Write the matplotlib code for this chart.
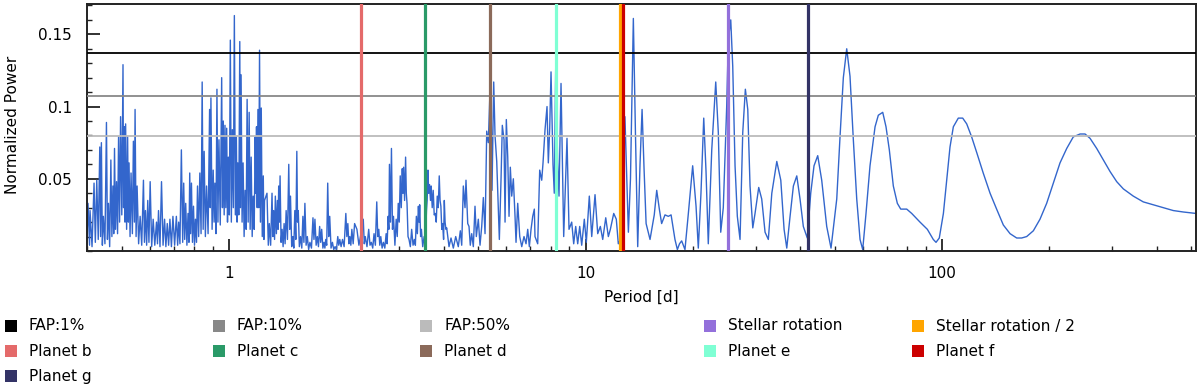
import numpy as np
import matplotlib
matplotlib.use("Agg")
import matplotlib.pyplot as plt
from matplotlib.patches import Rectangle
from matplotlib.ticker import LogLocator, MultipleLocator, NullFormatter

plt.rcParams['font.family'] = ['DejaVu Sans']

# periodogram, (period [d], normalized power)
seg_a = [(0.400, 0.012), (0.4022, 0.033), (0.4062, 0.004), (0.4075, 0.028), (0.4128, 0.003),
         (0.4182, 0.047), (0.4217, 0.006), (0.4256, 0.049), (0.4297, 0.008), (0.4340, 0.072),
         (0.4362, 0.010), (0.4385, 0.075), (0.4413, 0.004), (0.4442, 0.024), (0.4487, 0.005),
         (0.4531, 0.089), (0.4560, 0.008), (0.4590, 0.033), (0.4626, 0.003), (0.4662, 0.063),
         (0.4693, 0.010), (0.4724, 0.045), (0.4749, 0.012), (0.4773, 0.071), (0.4804, 0.015),
         (0.4836, 0.048), (0.4868, 0.012), (0.4900, 0.079), (0.4932, 0.020), (0.4964, 0.093),
         (0.5003, 0.025), (0.5042, 0.129), (0.5061, 0.030), (0.5085, 0.086), (0.5108, 0.020),
         (0.5128, 0.088), (0.5161, 0.015), (0.5195, 0.079), (0.5219, 0.020), (0.5243, 0.061),
         (0.5277, 0.010), (0.5311, 0.054), (0.5357, 0.012), (0.5392, 0.076), (0.5427, 0.020),
         (0.5451, 0.098), (0.5487, 0.010), (0.5523, 0.045), (0.5577, 0.005), (0.5632, 0.024),
         (0.5690, 0.004), (0.5754, 0.049), (0.5791, 0.006), (0.5829, 0.028), (0.5874, 0.004),
         (0.5916, 0.035), (0.5962, 0.006), (0.6009, 0.048), (0.6068, 0.003), (0.6127, 0.022),
         (0.6191, 0.004), (0.6260, 0.020), (0.6300, 0.005), (0.6342, 0.028), (0.6403, 0.003),
         (0.6466, 0.048), (0.6531, 0.004), (0.6595, 0.022), (0.6651, 0.003), (0.6711, 0.019),
         (0.6769, 0.004), (0.6827, 0.022), (0.6893, 0.003), (0.6961, 0.024), (0.7038, 0.004)]

seg_b = [(0.7117, 0.024), (0.7176, 0.004), (0.7224, 0.020), (0.7284, 0.005), (0.7351, 0.070),
         (0.7414, 0.006), (0.7463, 0.047), (0.7511, 0.008), (0.7560, 0.033), (0.7619, 0.004),
         (0.7674, 0.026), (0.7720, 0.006), (0.7759, 0.054), (0.7801, 0.012), (0.7846, 0.047),
         (0.7898, 0.006), (0.7950, 0.031), (0.8001, 0.004), (0.8053, 0.022), (0.8106, 0.006),
         (0.8159, 0.045), (0.8218, 0.010), (0.8282, 0.054), (0.8348, 0.012), (0.8408, 0.117),
         (0.8462, 0.015), (0.8517, 0.069), (0.8584, 0.010), (0.8650, 0.045), (0.8735, 0.012),
         (0.8821, 0.098), (0.8856, 0.030), (0.8897, 0.106), (0.8965, 0.015), (0.9029, 0.056),
         (0.9082, 0.020), (0.9131, 0.047), (0.9190, 0.012), (0.9250, 0.112), (0.9309, 0.020),
         (0.9371, 0.077), (0.9450, 0.018), (0.9537, 0.120), (0.9585, 0.030), (0.9636, 0.090),
         (0.9692, 0.025), (0.9743, 0.087), (0.9795, 0.030), (0.9851, 0.085), (0.9903, 0.020),
         (0.9954, 0.065), (1.0020, 0.025), (1.0085, 0.146), (1.0151, 0.020), (1.0217, 0.084),
         (1.0284, 0.030), (1.0351, 0.163), (1.0418, 0.025), (1.0486, 0.079), (1.0534, 0.020),
         (1.0582, 0.061), (1.0651, 0.025), (1.0720, 0.145), (1.0762, 0.030), (1.0811, 0.122),
         (1.0881, 0.020), (1.0952, 0.061), (1.1024, 0.010), (1.1096, 0.042), (1.1168, 0.015),
         (1.1241, 0.105), (1.1315, 0.020), (1.1389, 0.096), (1.1463, 0.015), (1.1538, 0.065),
         (1.1614, 0.010), (1.1689, 0.038), (1.1765, 0.015), (1.1842, 0.079), (1.1896, 0.040),
         (1.1943, 0.086), (1.1998, 0.030), (1.2053, 0.098), (1.2115, 0.030), (1.2179, 0.139),
         (1.2250, 0.020), (1.2315, 0.099), (1.2395, 0.010), (1.2477, 0.052), (1.2531, 0.008),
         (1.2580, 0.035)]

seg_c = [(1.2779, 0.040), (1.2889, 0.004), (1.2972, 0.019), (1.3084, 0.004), (1.3202, 0.040),
         (1.3272, 0.010), (1.3340, 0.028), (1.3420, 0.008), (1.3488, 0.038), (1.3578, 0.012),
         (1.3666, 0.035), (1.3729, 0.015), (1.3783, 0.045), (1.3843, 0.020), (1.3907, 0.052),
         (1.3996, 0.006), (1.4090, 0.015), (1.4181, 0.003), (1.4273, 0.019), (1.4366, 0.005),
         (1.4462, 0.028), (1.4584, 0.008), (1.4709, 0.060), (1.4797, 0.015), (1.4873, 0.038),
         (1.4990, 0.003), (1.5098, 0.010), (1.5196, 0.002), (1.5296, 0.028), (1.5395, 0.008),
         (1.5495, 0.069), (1.5567, 0.020), (1.5639, 0.028), (1.5751, 0.003), (1.5875, 0.010),
         (1.6000, 0.002), (1.6115, 0.024), (1.6220, 0.006), (1.6325, 0.033), (1.6453, 0.004),
         (1.6583, 0.010), (1.6724, 0.001), (1.6864, 0.006), (1.7032, 0.002), (1.7198, 0.023),
         (1.7309, 0.008), (1.7418, 0.022), (1.7555, 0.004), (1.7690, 0.010), (1.7817, 0.003),
         (1.7957, 0.017), (1.8076, 0.006), (1.8194, 0.015), (1.8337, 0.002), (1.8468, 0.006),
         (1.8575, 0.002), (1.8674, 0.008), (1.8795, 0.004), (1.8917, 0.047), (1.9040, 0.010),
         (1.9163, 0.024), (1.9327, 0.002), (1.9503, 0.006), (1.9668, 0.001), (1.9836, 0.003),
         (2.0016, 0.001), (2.0187, 0.010), (2.0318, 0.004), (2.0450, 0.008), (2.0625, 0.003),
         (2.0816, 0.008), (2.1032, 0.003), (2.1266, 0.026), (2.1404, 0.010), (2.1543, 0.019),
         (2.1683, 0.005), (2.1824, 0.010), (2.1966, 0.004), (2.2109, 0.015), (2.2298, 0.005),
         (2.2504, 0.019)]

seg_d = [(2.2845, 0.015), (2.3143, 0.004), (2.3446, 0.012), (2.3800, 0.022), (2.3954, 0.005),
         (2.4110, 0.010), (2.4378, 0.003), (2.4650, 0.015), (2.4861, 0.004), (2.5073, 0.006),
         (2.5300, 0.002), (2.5516, 0.012), (2.5735, 0.004), (2.5967, 0.034), (2.6135, 0.010),
         (2.6310, 0.015), (2.6480, 0.004), (2.6651, 0.010), (2.6880, 0.002), (2.7110, 0.006),
         (2.7354, 0.002), (2.7589, 0.012), (2.7767, 0.005), (2.7947, 0.024), (2.8076, 0.015),
         (2.8186, 0.060), (2.8369, 0.020), (2.8552, 0.071), (2.8744, 0.015), (2.8930, 0.024),
         (2.9198, 0.004), (2.9441, 0.022), (2.9641, 0.010), (2.9833, 0.033), (3.0026, 0.020),
         (3.0221, 0.052), (3.0423, 0.030), (3.0620, 0.057), (3.0761, 0.040), (3.0882, 0.058),
         (3.1082, 0.035), (3.1283, 0.065), (3.1428, 0.040), (3.1573, 0.033), (3.1778, 0.010),
         (3.1983, 0.008), (3.2258, 0.003), (3.2534, 0.015), (3.2827, 0.004), (3.3108, 0.008),
         (3.3322, 0.004), (3.3538, 0.024), (3.3755, 0.012), (3.3981, 0.031), (3.4138, 0.020),
         (3.4265, 0.032), (3.4471, 0.010), (3.4646, 0.015), (3.4943, 0.003), (3.5266, 0.010),
         (3.5560, 0.005), (3.5799, 0.028), (3.5956, 0.035), (3.6147, 0.056), (3.6314, 0.040),
         (3.6500, 0.046), (3.6744, 0.035), (3.6905, 0.045), (3.7153, 0.030), (3.7393, 0.042),
         (3.7635, 0.025), (3.7879, 0.026), (3.8133, 0.020), (3.8380, 0.038), (3.8628, 0.030),
         (3.8878, 0.052), (3.9085, 0.035), (3.9292, 0.031), (3.9520, 0.015), (3.9730, 0.019),
         (3.9987, 0.008), (4.0171, 0.035), (4.0375, 0.020), (4.0590, 0.015)]

seg_e = [(4.080, 0.016), (4.141, 0.003), (4.195, 0.009), (4.258, 0.002), (4.324, 0.010),
         (4.397, 0.003), (4.455, 0.014), (4.495, 0.004), (4.542, 0.045), (4.592, 0.030),
         (4.621, 0.049), (4.673, 0.019), (4.712, 0.017), (4.751, 0.004), (4.795, 0.012),
         (4.845, 0.003), (4.898, 0.031), (4.940, 0.010), (5.004, 0.022), (5.059, 0.004),
         (5.115, 0.017), (5.169, 0.037), (5.226, 0.012), (5.283, 0.083), (5.338, 0.075),
         (5.422, 0.127), (5.467, 0.042), (5.527, 0.117), (5.574, 0.080), (5.636, 0.062),
         (5.694, 0.030), (5.732, 0.008), (5.795, 0.050), (5.843, 0.087), (5.908, 0.077),
         (5.947, 0.020), (5.996, 0.091), (6.051, 0.065), (6.102, 0.024), (6.153, 0.058),
         (6.209, 0.038), (6.274, 0.050), (6.343, 0.024), (6.384, 0.006), (6.454, 0.033),
         (6.539, 0.010), (6.624, 0.003), (6.722, 0.010), (6.810, 0.005), (6.885, 0.015),
         (6.957, 0.003), (7.034, 0.015), (7.111, 0.024), (7.185, 0.029)]

seg_f = [(7.216, 0.010), (7.343, 0.005), (7.439, 0.056), (7.536, 0.049), (7.600, 0.061),
         (7.699, 0.084), (7.799, 0.100), (7.865, 0.061), (7.935, 0.085), (8.003, 0.124),
         (8.106, 0.060), (8.173, 0.040), (8.248, 0.126), (8.355, 0.061), (8.426, 0.038),
         (8.537, 0.116), (8.686, 0.010), (8.873, 0.078), (8.989, 0.015), (9.147, 0.020),
         (9.265, 0.005), (9.386, 0.017), (9.508, 0.005), (9.633, 0.017), (9.757, 0.004),
         (9.923, 0.022), (10.052, 0.006), (10.249, 0.038), (10.410, 0.010), (10.634, 0.039),
         (10.820, 0.012), (11.005, 0.017), (11.176, 0.008), (11.396, 0.023), (11.589, 0.010),
         (11.740, 0.015), (11.999, 0.026), (12.201, 0.022), (12.359, 0.005)]

seg_g = [(12.66, 0.010), (12.90, 0.093), (13.19, 0.013), (13.37, 0.050), (13.62, 0.161),
         (13.81, 0.080), (14.01, 0.003), (14.22, 0.060), (14.41, 0.098), (14.59, 0.058),
         (14.79, 0.019), (15.17, 0.008), (15.59, 0.025), (15.84, 0.042), (16.11, 0.029),
         (16.35, 0.019), (16.71, 0.025), (17.07, 0.024), (17.38, 0.025), (17.82, 0.008),
         (18.10, 0.001), (18.35, 0.005), (18.61, 0.007), (19.01, 0.001), (19.43, 0.026),
         (19.98, 0.059), (20.42, 0.031), (20.72, 0.002), (21.08, 0.040), (21.46, 0.092),
         (21.78, 0.055), (22.10, 0.005), (22.60, 0.070), (23.19, 0.117), (23.58, 0.082),
         (23.95, 0.013), (24.35, 0.030), (24.89, 0.100), (25.15, 0.146), (25.55, 0.160),
         (25.88, 0.128), (26.27, 0.059), (26.66, 0.024), (27.13, 0.008), (27.61, 0.082),
         (28.08, 0.112), (28.52, 0.098), (28.94, 0.045), (29.46, 0.016), (29.89, 0.026),
         (30.61, 0.044), (31.21, 0.036), (31.89, 0.013), (32.57, 0.008), (33.31, 0.040),
         (34.40, 0.062), (35.30, 0.049), (36.06, 0.015), (36.69, 0.002), (37.48, 0.024),
         (38.29, 0.045), (39.14, 0.052), (39.97, 0.036), (40.83, 0.017), (41.89, 0.009),
         (42.83, 0.040), (43.75, 0.059), (44.81, 0.066), (45.98, 0.049), (47.49, 0.017),
         (48.83, 0.002), (50.67, 0.036), (51.75, 0.079), (52.87, 0.120), (54.04, 0.140),
         (55.20, 0.121), (56.40, 0.077), (57.65, 0.036), (58.89, 0.008), (59.92, 0.001),
         (61.21, 0.026), (62.81, 0.059), (64.89, 0.086), (66.28, 0.094), (68.19, 0.096),
         (69.65, 0.086), (71.16, 0.070), (73.02, 0.045), (74.94, 0.033), (76.60, 0.029),
         (79.62, 0.029), (82.23, 0.026), (86.76, 0.020), (90.97, 0.015), (94.52, 0.008),
         (96.21, 0.006), (98.26, 0.009), (100.9, 0.026), (103.1, 0.049), (105.3, 0.072),
         (107.6, 0.086), (111.1, 0.092), (114.3, 0.092), (117.3, 0.088), (121.1, 0.079),
         (125.2, 0.068), (130.5, 0.054), (136.4, 0.040), (142.3, 0.029), (148.6, 0.018),
         (155.2, 0.012), (162.0, 0.009), (167.3, 0.009), (172.8, 0.010), (180.4, 0.014),
         (188.3, 0.022), (196.6, 0.033), (205.2, 0.047), (214.3, 0.061), (223.8, 0.071),
         (233.5, 0.079), (243.9, 0.081), (251.9, 0.081), (260.2, 0.078), (271.6, 0.071),
         (283.5, 0.063), (296.1, 0.055), (309.1, 0.048), (322.6, 0.043), (344.0, 0.038),
         (366.9, 0.034), (391.4, 0.032), (417.6, 0.030), (445.4, 0.028), (475.3, 0.027),
         (516.0, 0.026)]

fap_labels = ["FAP:1%", "FAP:10%", "FAP:50%"]
fap_levels = [0.137, 0.1076, 0.0797]
fap_colors = ["#000000", "#888888", "#bbbbbb"]

signal_labels = ["Stellar rotation", "Stellar rotation / 2", "Planet b", "Planet c",
                 "Planet d", "Planet e", "Planet f", "Planet g"]
signal_periods = [25.03, 12.52, 2.35, 3.553, 5.397, 8.246, 12.76, 41.98]
signal_colors = ["#9370db", "#ffa500", "#e46a6a", "#2a9a68", "#8b6a5a",
                 "#7fffd4", "#cc0000", "#333366"]

pts = np.array(seg_a + seg_b + seg_c + seg_d + seg_e + seg_f + seg_g)
period, power = pts[:, 0], pts[:, 1]

W, H = 1200, 391
fig = plt.figure(figsize=(W / 100, H / 100), dpi=100)
ax = fig.add_axes([87 / W, 1 - 251 / H, (1196 - 87) / W, (251 - 4) / H])

ax.plot(period, power, color="#3366cc", lw=1.0, zorder=2)
for lvl, c in zip(fap_levels, fap_colors):
    ax.axhline(lvl, color=c, lw=1.3, zorder=3)
for p, c in zip(signal_periods, signal_colors):
    ax.axvline(p, color=c, lw=2.3, zorder=4)

ax.set_xscale("log")
ax.set_xlim(0.3996, 515.8)
ax.set_ylim(0, 0.171)
ax.set_xticks([1, 10, 100])
ax.set_xticklabels(["1", "10", "100"])
ax.xaxis.set_minor_locator(LogLocator(base=10, subs=np.arange(2, 10)))
ax.xaxis.set_minor_formatter(NullFormatter())
ax.set_yticks([0.05, 0.1, 0.15])
ax.set_yticklabels(["0.05", "0.1", "0.15"])
ax.yaxis.set_minor_locator(MultipleLocator(0.01))
ax.tick_params(which="both", direction="in", top=False, right=False,
               color="#222222", labelsize=11, pad=11)
ax.tick_params(which="major", length=9, width=1.3)
ax.tick_params(which="minor", length=3.5, width=1.0)
for s in ax.spines.values():
    s.set_linewidth(1.4)
    s.set_color("#222222")

ax.set_xlabel("Period [d]", fontsize=11)
ax.xaxis.set_label_coords(0.5, -0.158)
ax.set_ylabel("Normalized Power", fontsize=11)
ax.yaxis.set_label_coords(-0.06, 0.51)

# legend below the axes, filled row by row
leg_labels = fap_labels + signal_labels
leg_colors = fap_colors + signal_colors
col_x = [5, 213, 420, 704, 912]
row_y = [326, 351, 376]
for i, (lab, c) in enumerate(zip(leg_labels, leg_colors)):
    x0 = col_x[i % 5]
    y0 = row_y[i // 5]
    fig.add_artist(Rectangle((x0 / W, 1 - (y0 + 6) / H), 12 / W, 12 / H,
                             transform=fig.transFigure, facecolor=c, edgecolor="none"))
    fig.text((x0 + 24) / W, 1 - y0 / H, lab, fontsize=11, va="center", ha="left")

fig.savefig("out.png", dpi=100)
